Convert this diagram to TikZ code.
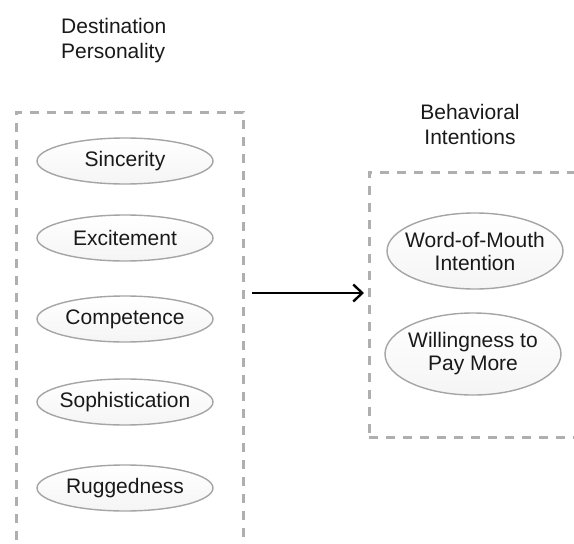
\documentclass[tikz,border=0pt]{standalone}
\usepackage{fontspec}
\setmainfont{Liberation Sans}
\usetikzlibrary{arrows.meta,shapes.geometric}
\definecolor{boxgray}{RGB}{175,175,175}
\definecolor{ellgray}{RGB}{165,165,165}
\definecolor{txt}{RGB}{25,25,25}
\tikzset{
  dashbox/.style={draw=boxgray, line width=3pt, dash pattern=on 9pt off 8pt, rectangle, inner sep=0pt},
  factor/.style={ellipse, draw=ellgray, line width=1.4pt, top color=white, bottom color=black!4,
    minimum width=176pt, minimum height=46pt, inner xsep=-25pt, inner ysep=0pt, text=txt,
    font=\fontsize{21}{23}\selectfont, align=center},
  factor2/.style={factor, minimum height=76pt},
  heading/.style={text=txt, font=\fontsize{21}{25}\selectfont, inner sep=0pt},
  flow/.style={draw=black, line width=2.6pt, -{Straight Barb[length=9pt,width=17pt,line width=2.4pt]}}
}
\begin{document}
\begin{tikzpicture}[x=1pt,y=-1pt]
\useasboundingbox (0,0) rectangle (574,544);
\clip (0,0) rectangle (574,544);
% headings
\node[heading, align=left, anchor=north west] (hdp) at (61,18) {Destination\\Personality};
\node[heading, align=center] (hbi) at (470,124) {Behavioral\\Intentions};
% boxes
\node[dashbox, minimum width=227pt, minimum height=470pt] (lbox) at (129.5,347) {};
\node[dashbox, minimum width=260pt, minimum height=265pt] (rbox) at (499,304.5) {};
% left factors
\node[factor] (sin) at (125,161) {Sincerity};
\node[factor] (exc) at (125,238) {Excitement};
\node[factor] (com) at (125,319) {Competence};
\node[factor] (sop) at (125,402) {Sophistication};
\node[factor] (rug) at (125,488) {Ruggedness};
% right factors
\node[factor2] (wom) at (475,251) {Word-of-Mouth\\Intention};
\node[factor2, minimum height=82pt] (wpm) at (473,354) {Willingness to\\Pay More};
% arrow
\coordinate (arrS) at (252,293);
\coordinate (arrE) at (364,293);
\draw[flow] (arrS) -- (arrE);
\end{tikzpicture}
\end{document}
